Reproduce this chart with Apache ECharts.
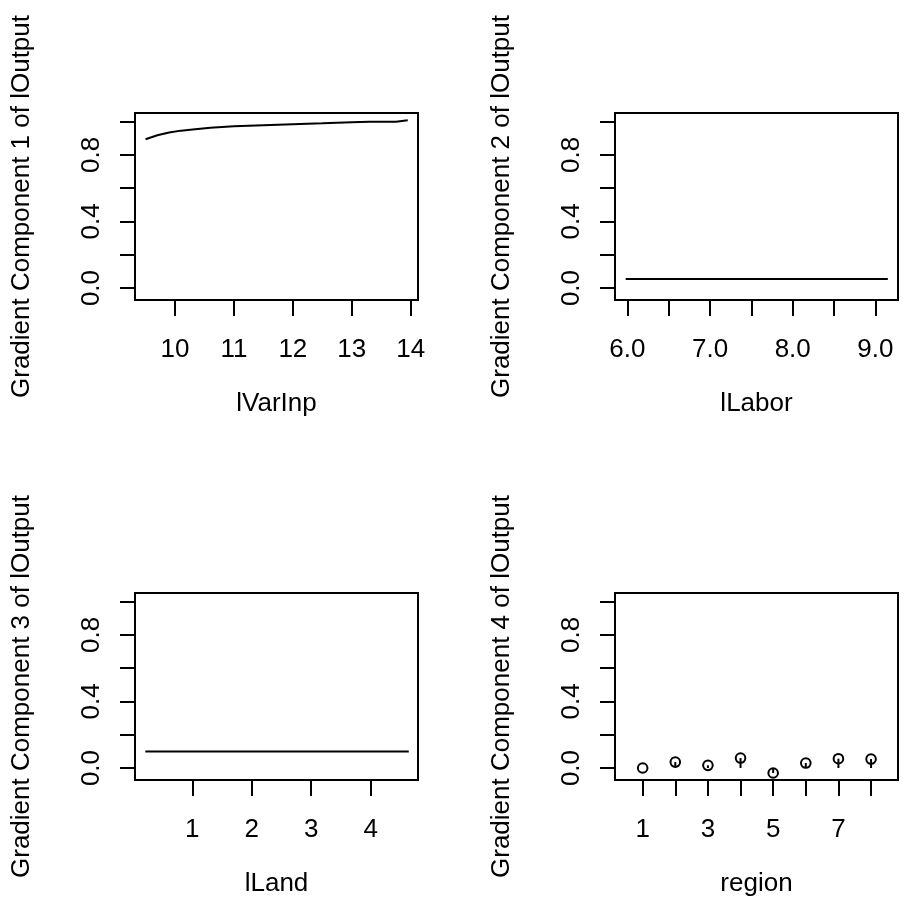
<!DOCTYPE html>
<html>
<head>
<meta charset="utf-8">
<script src="https://cdn.jsdelivr.net/npm/echarts@6/dist/echarts.min.js"></script>
<style>
  html, body { margin: 0; padding: 0; background: #fff; }
  #chart { width: 905px; height: 910px; }
</style>
</head>
<body>
<div id="chart"></div>
<script>
// panel 1: lVarInp
var varInpX = [9.5, 9.7, 9.9, 10.1, 10.3, 10.6, 11.0, 11.5, 12.0, 12.5, 13.0, 13.3, 13.6, 13.75, 13.95];
var varInpY = [0.894, 0.918, 0.935, 0.946, 0.953, 0.963, 0.972, 0.978, 0.984, 0.99, 0.997, 1.0, 0.999, 1.0, 1.008];
// panel 2: lLabor
var laborX = [5.98, 9.15];
var laborY = [0.054, 0.054];
// panel 3: lLand
var landX = [0.21, 4.64];
var landY = [0.1, 0.1];
// panel 4: region
var regionX = [1, 2, 3, 4, 5, 6, 7, 8];
var regionY = [0.0, 0.036, 0.016, 0.06, -0.03, 0.03, 0.056, 0.054];

var yTicks = [0, 0.2, 0.4, 0.6, 0.8, 1.0];
var yLabels = [0, 0.4, 0.8];
var xTicks = [[10, 11, 12, 13, 14], [6, 6.5, 7, 7.5, 8, 8.5, 9], [1, 2, 3, 4], [1, 2, 3, 4, 5, 6, 7, 8]];
var xLabels = [[10, 11, 12, 13, 14], [6, 7, 8, 9], [1, 2, 3, 4], [1, 3, 5, 7]];
var xRanges = [[9.321, 14.124], [5.851, 9.273], [0.037, 4.795], [0.152, 8.826]];
var xNames = ['lVarInp', 'lLabor', 'lLand', 'region'];
var yNames = ['Gradient Component 1 of lOutput', 'Gradient Component 2 of lOutput',
  'Gradient Component 3 of lOutput', 'Gradient Component 4 of lOutput'];

var FONT = 'Liberation Sans';
var FS = 26;
var myChart = echarts.init(document.getElementById('chart'));

// plot box of each panel (left, top)
var boxes = [[135, 113], [615, 113], [135, 593], [615, 593]];

function zip(xs, ys) {
  return xs.map(function (x, i) { return [x, ys[i]]; });
}

var grids = [], xAxes = [], yAxes = [];
boxes.forEach(function (b, i) {
  grids.push({
    left: b[0], top: b[1], width: 283, height: 187,
    show: true, borderColor: '#000', borderWidth: 2, backgroundColor: 'transparent'
  });
  xAxes.push({
    type: 'value', gridIndex: i,
    min: xRanges[i][0], max: xRanges[i][1],
    splitLine: { show: false },
    axisLine: { show: true, onZero: false, lineStyle: { color: '#000', width: 2 } },
    axisTick: { show: true, inside: false, customValues: xTicks[i], length: 16, lineStyle: { color: '#000', width: 2 } },
    axisLabel: {
      customValues: xLabels[i], margin: 37, color: '#000', fontFamily: FONT, fontSize: FS,
      formatter: function (v) { return i === 1 ? v.toFixed(1) : String(v); }
    },
    name: xNames[i], nameLocation: 'middle', nameGap: 91,
    nameTextStyle: { color: '#000', fontFamily: FONT, fontSize: FS }
  });
  yAxes.push({
    type: 'value', gridIndex: i,
    min: -0.072, max: 1.052,
    splitLine: { show: false },
    axisLine: { show: true, onZero: false, lineStyle: { color: '#000', width: 2 } },
    axisTick: { show: true, inside: false, customValues: yTicks, length: 15, lineStyle: { color: '#000', width: 2 } },
    axisLabel: {
      customValues: yLabels, rotate: 90, margin: 30, color: '#000', fontFamily: FONT, fontSize: FS,
      formatter: function (v) { return v.toFixed(1); }
    },
    name: yNames[i], nameLocation: 'middle', nameRotate: 90, nameGap: 100,
    nameTextStyle: { color: '#000', fontFamily: FONT, fontSize: FS }
  });
});

var lineStyle = { color: '#000', width: 2 };

option = {
  animation: false,
  backgroundColor: '#fff',
  grid: grids,
  xAxis: xAxes,
  yAxis: yAxes,
  series: [
    { type: 'line', xAxisIndex: 0, yAxisIndex: 0, data: zip(varInpX, varInpY), showSymbol: false, lineStyle: lineStyle },
    { type: 'line', xAxisIndex: 1, yAxisIndex: 1, data: zip(laborX, laborY), showSymbol: false, lineStyle: lineStyle },
    { type: 'line', xAxisIndex: 2, yAxisIndex: 2, data: zip(landX, landY), showSymbol: false, lineStyle: lineStyle },
    {
      // points with a stem back to zero
      type: 'custom', xAxisIndex: 3, yAxisIndex: 3, data: zip(regionX, regionY),
      renderItem: function (params, api) {
        var p = api.coord([api.value(0), api.value(1)]);
        var z = api.coord([api.value(0), 0]);
        return {
          type: 'group',
          children: [
            { type: 'line', shape: { x1: p[0], y1: p[1], x2: z[0], y2: z[1] }, style: { stroke: '#000', lineWidth: 2 } },
            { type: 'circle', shape: { cx: p[0], cy: p[1], r: 4.8 }, style: { fill: null, stroke: '#000', lineWidth: 2 } }
          ]
        };
      }
    }
  ]
};
myChart.setOption(option);
</script>
</body>
</html>
